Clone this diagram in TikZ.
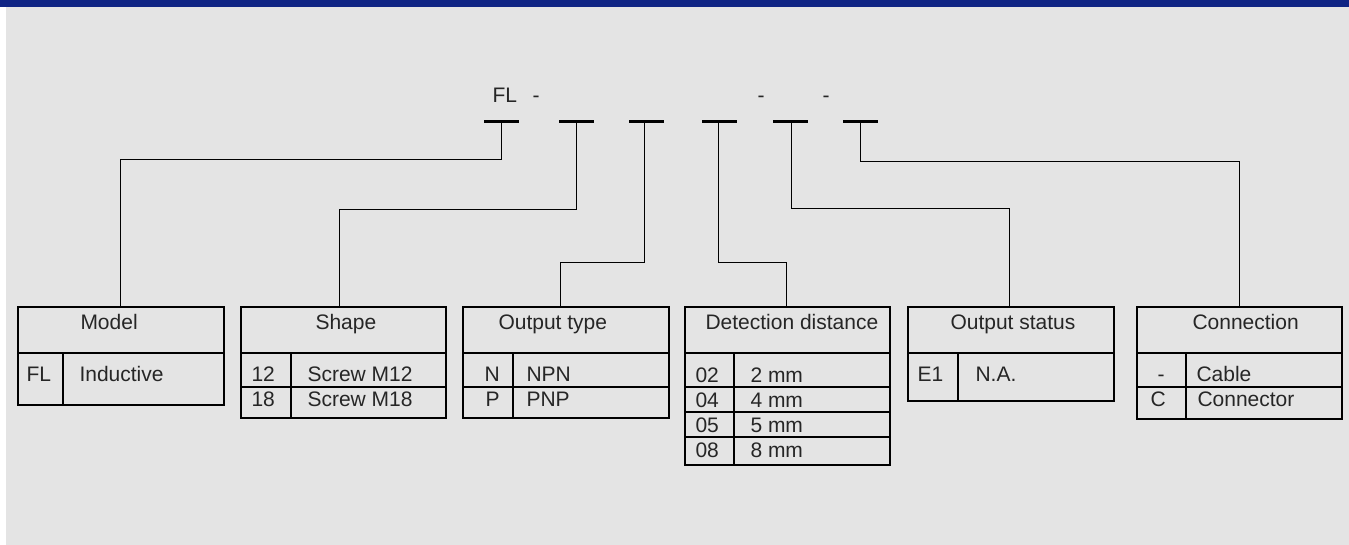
\documentclass[tikz,border=0pt]{standalone}
\usepackage{fontspec}
\setmainfont{Liberation Sans}
\usetikzlibrary{positioning, calc}
\definecolor{hdrblue}{RGB}{15,36,132}
\definecolor{panel}{RGB}{228,228,228}
\begin{document}
\begin{tikzpicture}[x=1pt, y=-1pt, font=\fontsize{21}{25}\selectfont, line width=1pt,
	txt/.style={inner sep=0, anchor=base west, text=black!85},
	tbl/.style={draw, line width=1.2pt, inner sep=0, outer sep=0, anchor=north west, minimum width=206pt},
	slot/.style={inner sep=0, outer sep=0, minimum width=35pt, minimum height=3pt, fill=black}]
	\useasboundingbox (0,0) rectangle (1349,545);
	\fill[panel] (6,7) rectangle (1349,545);
	\fill[hdrblue] (0,0) rectangle (1349,7);
	% order code
	\node[txt] (fl) at (492,103) {FL};
	\node[txt] (dash1) at (532,103) {-};
	\node[txt] (dash2) at (757,103) {-};
	\node[txt] (dash3) at (822,103) {-};
	\foreach \n/\x in {1/501,2/576,3/646,4/719,5/790,6/860}
		\node[slot] (s\n) at (\x,122) {};
	% tables
	\node[tbl, minimum height=98pt] (model) at (18,307) {};
	\node[tbl, minimum width=205pt, minimum height=111pt] (shape) at (241,307) {};
	\node[tbl, minimum height=111pt] (otype) at (463,307) {};
	\node[tbl, minimum width=205pt, minimum height=158pt] (dist) at (685,307) {};
	\node[tbl, minimum height=94pt] (ostat) at (908,307) {};
	\node[tbl, minimum width=205pt, minimum height=112pt] (conn) at (1137,307) {};
	\begin{scope}[line width=1.2pt]
		\foreach \t in {model,shape,otype,dist,ostat,conn}
			\draw (\t.west |- 0,353) -- (\t.east |- 0,353);
		\foreach \t in {shape,otype,dist,conn}
			\draw (\t.west |- 0,387) -- (\t.east |- 0,387);
		\foreach \y in {412,437}
			\draw (dist.west |- 0,\y) -- (dist.east |- 0,\y);
		\draw (63,353) -- (model.south -| 63,0);
		\draw (291,353) -- (shape.south -| 291,0);
		\draw (513,353) -- (otype.south -| 513,0);
		\draw (734,353) -- (dist.south -| 734,0);
		\draw (958,353) -- (ostat.south -| 958,0);
		\draw (1186,353) -- (conn.south -| 1186,0);
	\end{scope}
	% headers
	\node[txt] (model-h) at (80,330) {Model};
	\node[txt] (shape-h) at (315,330) {Shape};
	\node[txt] (otype-h) at (498,330) {Output type};
	\node[txt] (dist-h) at (705,330) {Detection distance};
	\node[txt] (ostat-h) at (950,330) {Output status};
	\node[txt] (conn-h) at (1192,330) {Connection};
	% entries
	\node[txt] (m-fl) at (26,381) {FL};
	\node[txt] (m-ind) at (79,381) {Inductive};
	\node[txt] (sh-12) at (251,381) {12};
	\node[txt] (sh-m12) at (307,381) {Screw M12};
	\node[txt] (sh-18) at (251,406) {18};
	\node[txt] (sh-m18) at (307,406) {Screw M18};
	\node[txt] (ot-n) at (484,381) {N};
	\node[txt] (ot-npn) at (526,381) {NPN};
	\node[txt] (ot-p) at (485,406) {P};
	\node[txt] (ot-pnp) at (526,406) {PNP};
	\foreach \c/\v/\y in {02/2 mm/382,04/4 mm/407,05/5 mm/432,08/8 mm/457}{
		\node[txt] (dc-\c) at (695,\y) {\c};
		\node[txt] (dv-\c) at (750,\y) {\v};
	}
	\node[txt] (os-e1) at (917,381) {E1};
	\node[txt] (os-na) at (975,381) {N.A.};
	\node[txt] (cn-dash) at (1157,381) {-};
	\node[txt] (cn-cable) at (1196,381) {Cable};
	\node[txt] (cn-c) at (1150,406) {C};
	\node[txt] (cn-conn) at (1197,406) {Connector};
	% leaders
	\draw (s1.center) -- ++(0,38) -| ($(model.north)+(-1,0)$);
	\draw (s2.center) -- ++(0,88) -| ($(shape.north)+(-4,0)$);
	\draw ($(s3.center)+(-2,0)$) -- ++(0,141) -| ($(otype.north)+(-6,0)$);
	\draw ($(s4.center)+(-1,0)$) -- ++(0,141) -| ($(dist.north)+(-1,0)$);
	\draw ($(s5.center)+(1,0)$) -- ++(0,87) -| ($(ostat.north)+(-2,0)$);
	\draw (s6.center) -- ++(0,40) -| (conn.north);
\end{tikzpicture}
\end{document}
